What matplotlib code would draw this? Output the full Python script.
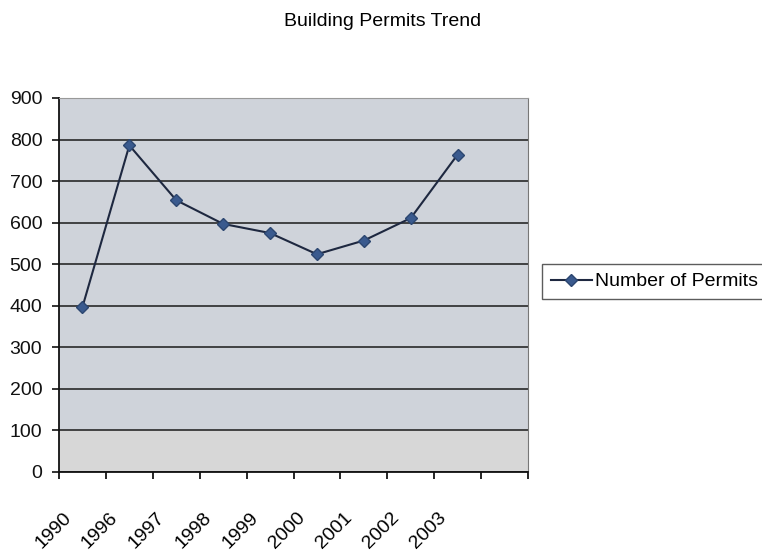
import numpy as np
import matplotlib
matplotlib.use("Agg")
import matplotlib.pyplot as plt
import matplotlib.transforms as mtransforms

plt.rcParams['font.family'] = ['Liberation Sans', 'DejaVu Sans']
fs = 14

# data
years = ["1990", "1996", "1997", "1998", "1999", "2000", "2001", "2002", "2003"]
permits = [397, 786, 654, 597, 575, 524, 557, 611, 764]
y_ticks = [0, 100, 200, 300, 400, 500, 600, 700, 800, 900]
n_slots = 10  # Excel left an empty category slot at the end

fig = plt.figure(figsize=(7.62, 5.54), dpi=100)
ax = fig.add_axes([59 / 762, 1 - 472 / 554, (528 - 59) / 762, (472 - 98) / 554])

# plot area background
ax.set_facecolor('#CFD3DA')
ax.axhspan(0, 100, color='#D7D7D7', zorder=0)

x = np.arange(len(years))
ax.plot(x, permits, color='#1E2840', lw=1.5, marker='D', markersize=6.5,
        markerfacecolor='#3A5A8E', markeredgecolor='#2C4670',
        label='Number of Permits', zorder=3)

ax.set_xlim(-0.5, n_slots - 0.5)
ax.set_ylim(0, 900)

# gridlines
ax.set_yticks(y_ticks)
ax.yaxis.grid(True, color='#1A1A1A', lw=1.1)
ax.set_axisbelow(True)

ax.tick_params(axis='y', direction='out', length=5, width=1.2, pad=7,
               labelsize=fs, colors='#111111')

# category labels in slot centres, tick marks at slot edges
ax.set_xticks(x)
ax.set_xticklabels(years, rotation=45, ha='right', va='top', fontsize=fs)
ax.tick_params(axis='x', which='major', length=0, pad=27)
ax.set_xticks(np.arange(n_slots + 1) - 0.5, minor=True)
ax.tick_params(axis='x', which='minor', direction='out', length=5, width=1.2)
shift = mtransforms.ScaledTranslation(-8 / 100, 0, fig.dpi_scale_trans)
for lab in ax.get_xticklabels():
    lab.set_transform(lab.get_transform() + shift)

for side in ['left', 'bottom']:
    ax.spines[side].set_color('#111111')
    ax.spines[side].set_linewidth(1.3)
ax.spines['right'].set_color('#777777')
ax.spines['top'].set_color('#999999')

fig.text(383 / 762, 1 - 22 / 554, "Building Permits Trend", ha='center',
         va='center', fontsize=fs)

leg = fig.legend(loc='upper left', bbox_to_anchor=(542 / 762, 1 - 264 / 554),
                 fontsize=fs, frameon=True, fancybox=False, handlelength=2.1,
                 handletextpad=0.2, borderpad=0.45, borderaxespad=0)
leg.get_frame().set_edgecolor('#333333')
leg.get_frame().set_linewidth(1.0)

fig.savefig("out.png", dpi=100)
